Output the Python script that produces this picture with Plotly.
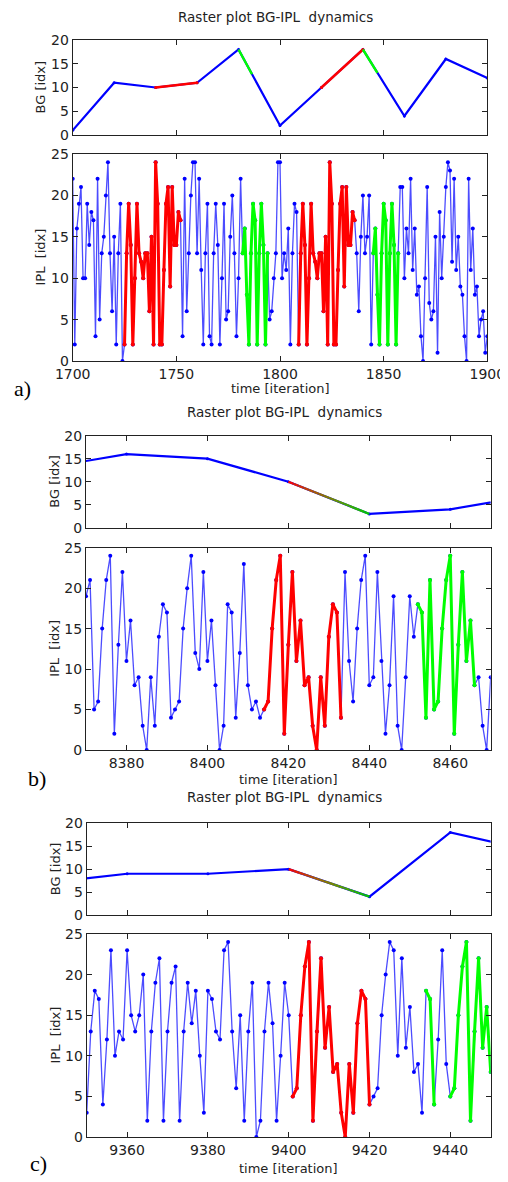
import numpy as np
import plotly.graph_objects as go

# the page body has an 8px margin, so the figure starts at (8, 8) in the window
OFF = 8
W, H = 508 - OFF, 1182 - OFF

# ---------------- data ----------------
# panel a
a_x0 = 1700
a_ipl = [22, 2, 16, 19, 21, 10, 10, 19, 14, 18, 17, 3, 22, 5, 13, 15, 20, 24, 13, 6, 15, 2, 13, 19, 0,
         2, 13, 19, 14, 2, 10, 19, 13, 12, 10, 13, 13, 6, 15, 2, 24, 19, 2, 2, 11, 19, 21, 9, 21, 14, 14, 18, 17,
         3, 22, 6, 13, 20, 24, 24, 13, 22, 11, 2, 13, 19, 3, 2, 13, 19, 14, 2, 10, 19, 5, 6, 15, 20, 13, 3, 10, 22,
         13, 16, 8, 2, 13, 19, 17, 2, 13, 19, 14, 2, 13,
         5, 6, 10, 13, 24, 24, 10, 13, 11, 16, 2, 13, 19, 18,
         2, 13, 19, 14, 2, 10, 19, 13, 12, 10, 13, 13, 6, 15, 2, 24, 19, 2, 2, 11, 19, 21, 9, 21, 14, 14, 18, 17,
         13, 6, 15, 20, 13, 15, 20, 2,
         13, 16, 8, 2, 13, 19, 17, 2, 13, 19, 14, 2, 13,
         21, 21, 10, 16, 13, 22, 11, 16, 8, 9, 3, 0, 10, 21, 7, 5, 6, 15, 1, 18, 10, 15, 21, 24, 23, 12, 22, 11,
         15, 9, 8, 3, 0, 22, 11, 16, 8, 9, 3, 5, 6, 1, 3]
a_red = [(1725, 1752), (1809, 1836)]
a_green = [(1782, 1794), (1845, 1857)]
a_bg_t = [1700, 1720, 1740, 1760, 1780, 1800, 1820, 1840, 1860, 1880, 1900]
a_bg = [1, 11, 10, 11, 18, 2, 10, 18, 4, 16, 12]
a_bg_red = [(1740, 1760), (1820, 1840)]
a_bg_green = [(1780, 1786.5), (1840, 1847)]
a_bg_grad = []
a_range = [1700, 1900]
a_ticks = [1700, 1750, 1800, 1850, 1900]

# panel b
b_x0 = 8370
b_ipl = [19, 21, 5, 6, 15, 21, 24, 2, 13, 22, 11, 16, 8, 9, 3, 0, 9, 3, 14, 18, 17, 4, 5, 6, 15, 20, 24, 12,
         10, 22, 11, 16, 8, 0, 3, 18, 17, 4, 12, 23, 8, 5,
         6, 4,
         5, 6, 15, 21, 24, 2, 13, 22, 11, 16, 8, 9, 3, 0, 9, 3, 14, 18, 17, 4,
         22, 11, 6, 15, 21, 24, 8, 9, 22, 11, 2, 8, 19, 3, 0, 9, 19, 14,
         18, 17, 4, 21, 5, 6, 15, 21, 24, 2, 13, 22, 11, 16, 8,
         9, 3, 0, 9]
b_red = [(8414, 8433)]
b_green = [(8452, 8466)]
b_bg_t = [8360, 8380, 8400, 8420, 8440, 8460, 8480]
b_bg = [13, 16, 15, 10, 3, 4, 7]
b_bg_red = []
b_bg_green = []
b_bg_grad = [(8420, 8440)]
b_range = [8370, 8470]
b_ticks = [8380, 8400, 8420, 8440, 8460]

# panel c
c_x0 = 9350
c_ipl = [3, 13, 18, 17, 4, 12, 23, 10, 13, 12, 23, 15, 13, 15, 20, 2, 13, 19, 22, 2, 13, 19, 21, 2, 13, 19,
         14, 18, 10, 3, 18, 17, 13, 12, 23, 24, 13, 6, 15, 2, 13, 19,
         0, 2, 13, 19, 14, 2, 10, 19, 15,
         5, 6, 15, 21, 24, 2, 13, 22, 11, 16, 8, 9, 3, 0, 9, 3, 14, 18, 17, 4,
         5, 6, 15, 20, 24, 23, 10, 22, 11, 16, 8, 9, 3,
         18, 17, 4,
         12, 23, 9,
         5, 6, 15, 21, 24, 2, 13, 22, 11, 16, 8]
c_red = [(9401, 9420)]
c_green = [(9434, 9436), (9440, 9450)]
c_bg_t = [9340, 9360, 9380, 9400, 9420, 9440, 9460]
c_bg = [7, 9, 9, 10, 4, 18, 14]
c_bg_red = []
c_bg_green = []
c_bg_grad = [(9400, 9420)]
c_range = [9350, 9450]
c_ticks = [9360, 9380, 9400, 9420, 9440]

TITLE = "Raster plot BG-IPL\u00a0 dynamics"
BG_LABEL = "BG [idx]"
IPL_LABEL = "IPL\u00a0 [idx]"
X_LABEL = "time [iteration]"
PANEL_LABELS = ["a)", "b)", "c)"]

# ---------------- layout geometry (window pixels) ----------------
panels = [
    dict(x0=a_x0, ipl=a_ipl, red=a_red, green=a_green, bgt=a_bg_t, bg=a_bg, bgred=a_bg_red,
         bggreen=a_bg_green, bggrad=a_bg_grad, rng=a_range, ticks=a_ticks, tfs=14,
         xl=72.7, xr=487.3, bgtop=40, bgbot=135, ipltop=154, iplbot=361,
         title=(275, 17), xlab=(280, 389), plab=(22, 389), ylabx=40),
    dict(x0=b_x0, ipl=b_ipl, red=b_red, green=b_green, bgt=b_bg_t, bg=b_bg, bgred=b_bg_red,
         bggreen=b_bg_green, bggrad=b_bg_grad, rng=b_range, ticks=b_ticks, tfs=14,
         xl=86, xr=490.7, bgtop=435.7, bgbot=527.7, ipltop=547.7, iplbot=750,
         title=(284, 412), xlab=(288, 779), plab=(37, 778), ylabx=55),
    dict(x0=c_x0, ipl=c_ipl, red=c_red, green=c_green, bgt=c_bg_t, bg=c_bg, bgred=c_bg_red,
         bggreen=c_bg_green, bggrad=c_bg_grad, rng=c_range, ticks=c_ticks, tfs=14,
         xl=86.7, xr=490.7, bgtop=823.3, bgbot=915, ipltop=934, iplbot=1137,
         title=(284, 797), xlab=(288, 1168), plab=(38, 1163), ylabx=55),
]

BLUE = "#0000ff"
RED = "#ff0000"
GREEN = "#00ff00"

fig = go.Figure()
annotations = []
layout = {}


def py(v):
    return 1 - (v - OFF) / H


def px(v):
    return (v - OFF) / W


def ax_common(size):
    return dict(showline=True, linecolor="#222", linewidth=1, mirror="allticks", ticks="inside",
                ticklen=5, tickcolor="#222", showgrid=False, zeroline=False, automargin=False,
                tickfont=dict(family="DejaVu Sans", size=size, color="#222"))


def seg_points(t, v, s, e):
    xs = sorted(set([s, e] + [tt for tt in t if s < tt < e]))
    return xs, list(np.interp(xs, t, v))


for i, p in enumerate(panels):
    k1 = 2 * i + 1
    k2 = 2 * i + 2
    xa1 = "x" if k1 == 1 else f"x{k1}"
    ya1 = "y" if k1 == 1 else f"y{k1}"
    xa2, ya2 = f"x{k2}", f"y{k2}"
    xn1 = "xaxis" if k1 == 1 else f"xaxis{k1}"
    yn1 = "yaxis" if k1 == 1 else f"yaxis{k1}"
    xn2, yn2 = f"xaxis{k2}", f"yaxis{k2}"
    dom_x = [px(p["xl"]), px(p["xr"])]
    fs = p["tfs"]

    layout[xn1] = dict(ax_common(fs), domain=dom_x, range=p["rng"], tickvals=p["ticks"],
                       showticklabels=False, anchor=ya1)
    layout[yn1] = dict(ax_common(fs), domain=[py(p["bgbot"]), py(p["bgtop"])], range=[0, 20],
                       tickvals=[0, 5, 10, 15, 20], anchor=xa1)
    layout[xn2] = dict(ax_common(fs), domain=dom_x, range=p["rng"], tickvals=p["ticks"], anchor=ya2)
    layout[yn2] = dict(ax_common(fs), domain=[py(p["iplbot"]), py(p["ipltop"])], range=[0, 25],
                       tickvals=[0, 5, 10, 15, 20, 25], anchor=xa2)

    # BG line
    fig.add_trace(go.Scatter(x=p["bgt"], y=p["bg"], mode="lines+markers",
                             line=dict(color=BLUE, width=2.2), marker=dict(color=BLUE, size=3),
                             xaxis=xa1, yaxis=ya1, showlegend=False, hoverinfo="skip"))
    for s, e in p["bgred"]:
        xs, ys = seg_points(p["bgt"], p["bg"], s, e)
        fig.add_trace(go.Scatter(x=xs, y=ys, mode="lines+markers", line=dict(color=RED, width=2.4),
                                 marker=dict(color=RED, size=3),
                                 xaxis=xa1, yaxis=ya1, showlegend=False, hoverinfo="skip"))
    for s, e in p["bggreen"]:
        xs, ys = seg_points(p["bgt"], p["bg"], s, e)
        fig.add_trace(go.Scatter(x=xs, y=ys, mode="lines", line=dict(color=GREEN, width=2.4),
                                 xaxis=xa1, yaxis=ya1, showlegend=False, hoverinfo="skip"))
    for s, e in p["bggrad"]:
        n = 16
        edges = np.linspace(s, e, n + 1)
        for j in range(n):
            f = (j + 0.5) / n
            col = f"rgb({int(255 * (1 - f))},{int(200 * f + 30 * (1 - f) * f * 4)},0)"
            xs = [edges[j], edges[j + 1]]
            ys = list(np.interp(xs, p["bgt"], p["bg"]))
            fig.add_trace(go.Scatter(x=xs, y=ys, mode="lines", line=dict(color=col, width=2.2),
                                     xaxis=xa1, yaxis=ya1, showlegend=False, hoverinfo="skip"))

    # IPL
    t = list(range(p["x0"], p["x0"] + len(p["ipl"])))
    fig.add_trace(go.Scatter(x=t, y=p["ipl"], mode="lines+markers",
                             line=dict(color="rgba(0,0,255,0.7)", width=1.3),
                             marker=dict(color=BLUE, size=4),
                             xaxis=xa2, yaxis=ya2, showlegend=False, hoverinfo="skip"))
    for segs, col in ((p["red"], RED), (p["green"], GREEN)):
        for s, e in segs:
            i0, i1 = s - p["x0"], e - p["x0"] + 1
            fig.add_trace(go.Scatter(x=t[i0:i1], y=p["ipl"][i0:i1], mode="lines+markers",
                                     line=dict(color=col, width=3), marker=dict(color=col, size=4),
                                     xaxis=xa2, yaxis=ya2, showlegend=False, hoverinfo="skip"))

    font_lab = dict(family="DejaVu Sans", size=13, color="#222")
    annotations.append(dict(x=px(p["title"][0]), y=py(p["title"][1]), xref="paper", yref="paper",
                            text=TITLE, showarrow=False, xanchor="center", yanchor="middle",
                            font=dict(family="DejaVu Sans", size=13.5, color="#222")))
    annotations.append(dict(x=px(p["xlab"][0]), y=py(p["xlab"][1]), xref="paper", yref="paper",
                            text=X_LABEL, showarrow=False, xanchor="center", yanchor="middle",
                            font=font_lab))
    annotations.append(dict(x=px(p["ylabx"]), y=py((p["bgtop"] + p["bgbot"]) / 2), xref="paper",
                            yref="paper", text=BG_LABEL, showarrow=False, textangle=-90,
                            xanchor="center", yanchor="middle", font=font_lab))
    annotations.append(dict(x=px(p["ylabx"]), y=py((p["ipltop"] + p["iplbot"]) / 2), xref="paper",
                            yref="paper", text=IPL_LABEL, showarrow=False, textangle=-90,
                            xanchor="center", yanchor="middle", font=font_lab))
    annotations.append(dict(x=px(p["plab"][0]), y=py(p["plab"][1]), xref="paper", yref="paper",
                            text=PANEL_LABELS[i], showarrow=False, xanchor="center", yanchor="middle",
                            font=dict(family="Liberation Serif", size=22, color="#000")))

fig.update_layout(template="none", width=W, height=H, autosize=False,
                  margin=dict(l=0, r=0, t=0, b=0, pad=0),
                  paper_bgcolor="white", plot_bgcolor="white", annotations=annotations, **layout)

fig.write_html("out.html")
